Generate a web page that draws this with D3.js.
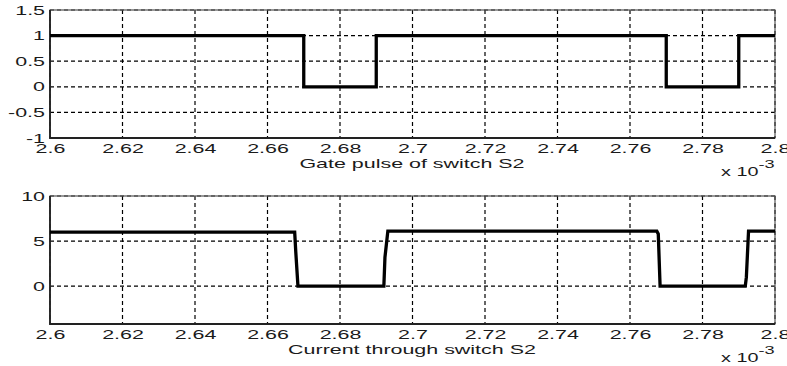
<!DOCTYPE html>
<html>
<head>
<meta charset="utf-8">
<script src="https://cdn.jsdelivr.net/npm/d3@7"></script>
<style>
  body { margin: 0; background: #fff; }
  text { font-family: "Liberation Sans", Arial, sans-serif; font-size: 13px; fill: #1a1a1a; }
</style>
</head>
<body>
<div id="chart"></div>
<script>
// x axis in ms-ish units (x 10^-3 s)
var xTicks = [2.6, 2.62, 2.64, 2.66, 2.68, 2.7, 2.72, 2.74, 2.76, 2.78, 2.8];

// gate pulse of S2
var gateT = [2.6, 2.67, 2.67, 2.69, 2.69, 2.77, 2.77, 2.79, 2.79, 2.8];
var gateV = [1, 1, 0, 0, 1, 1, 0, 0, 1, 1];
var gateYTicks = [-1, -0.5, 0, 0.5, 1, 1.5];

// current through S2
var currT = [2.6, 2.6675, 2.6678, 2.6684, 2.6921, 2.6924, 2.6932, 2.7674, 2.7678, 2.7683, 2.7918, 2.7921, 2.7927, 2.8];
var currI = [6.0, 6.0, 3.8, 0, 0, 3.2, 6.1, 6.1, 5.8, 0, 0, 1.0, 6.1, 6.1];
var currYTicks = [0, 5, 10];

var SX = 1.65; // text in the picture is stretched sideways

var svg = d3.select("#chart").append("svg")
    .attr("width", 787)
    .attr("height", 366);

var left = 50, right = 775;
var x = d3.scaleLinear().domain([2.6, 2.8]).range([left, right]);

function panel(top, bottom, yDomain, yTicks, ts, vs, title) {
    var y = d3.scaleLinear().domain(yDomain).range([bottom, top]);
    var g = svg.append("g");

    // dashed grid
    g.selectAll("line.vgrid").data(xTicks).enter().append("line")
        .attr("x1", d => x(d)).attr("x2", d => x(d))
        .attr("y1", top).attr("y2", bottom)
        .attr("stroke", "#000").attr("stroke-width", 1.2)
        .attr("stroke-dasharray", "4,3");
    g.selectAll("line.hgrid").data(yTicks).enter().append("line")
        .attr("x1", left).attr("x2", right)
        .attr("y1", d => y(d)).attr("y2", d => y(d))
        .attr("stroke", "#000").attr("stroke-width", 1.2)
        .attr("stroke-dasharray", "4,3");

    // frame: left/bottom darker than top/right
    g.append("rect")
        .attr("x", left).attr("y", top)
        .attr("width", right - left).attr("height", bottom - top)
        .attr("fill", "none").attr("stroke", "#555").attr("stroke-width", 1.2);
    g.append("path")
        .attr("d", "M" + left + "," + top + "V" + bottom + "H" + right)
        .attr("fill", "none").attr("stroke", "#222").attr("stroke-width", 1.8);

    // waveform
    var pts = ts.map((t, i) => [t, vs[i]]);
    g.append("path")
        .attr("d", d3.line().x(d => x(d[0])).y(d => y(d[1]))(pts))
        .attr("fill", "none").attr("stroke", "#000").attr("stroke-width", 3.3);

    // axes labels
    var ax = g.append("g").attr("transform", "translate(0," + bottom + ")")
        .call(d3.axisBottom(x).tickValues(xTicks).tickFormat(d => String(d)).tickSize(0).tickPadding(6));
    var ay = g.append("g").attr("transform", "translate(" + left + ",0)")
        .call(d3.axisLeft(y).tickValues(yTicks).tickFormat(d => String(d)).tickSize(0).tickPadding(5));
    [ax, ay].forEach(function(a) {
        a.select(".domain").remove();
        a.selectAll("text").attr("font-family", null).attr("font-size", null)
            .attr("fill", "#1a1a1a");
    });
    ax.selectAll("text").attr("transform", "scale(" + SX + ",1)");
    ay.selectAll("text").attr("x", -5 / SX).attr("transform", "scale(" + SX + ",1)");

    g.append("text")
        .attr("x", 412 / SX).attr("y", bottom + 30)
        .attr("transform", "scale(" + SX + ",1)")
        .attr("text-anchor", "middle")
        .text(title);

    var ex = g.append("text")
        .attr("x", 721 / SX).attr("y", bottom + 38)
        .attr("transform", "scale(" + SX + ",1)");
    ex.append("tspan").attr("font-size", 12).text("x 10");
    ex.append("tspan").attr("dy", -8).attr("font-size", 11).text("-3");
}

panel(10, 138, [-1, 1.5], gateYTicks, gateT, gateV, "Gate pulse of switch S2");
panel(196, 324, [-4.2, 10], currYTicks, currT, currI, "Current through switch S2");
</script>
</body>
</html>
